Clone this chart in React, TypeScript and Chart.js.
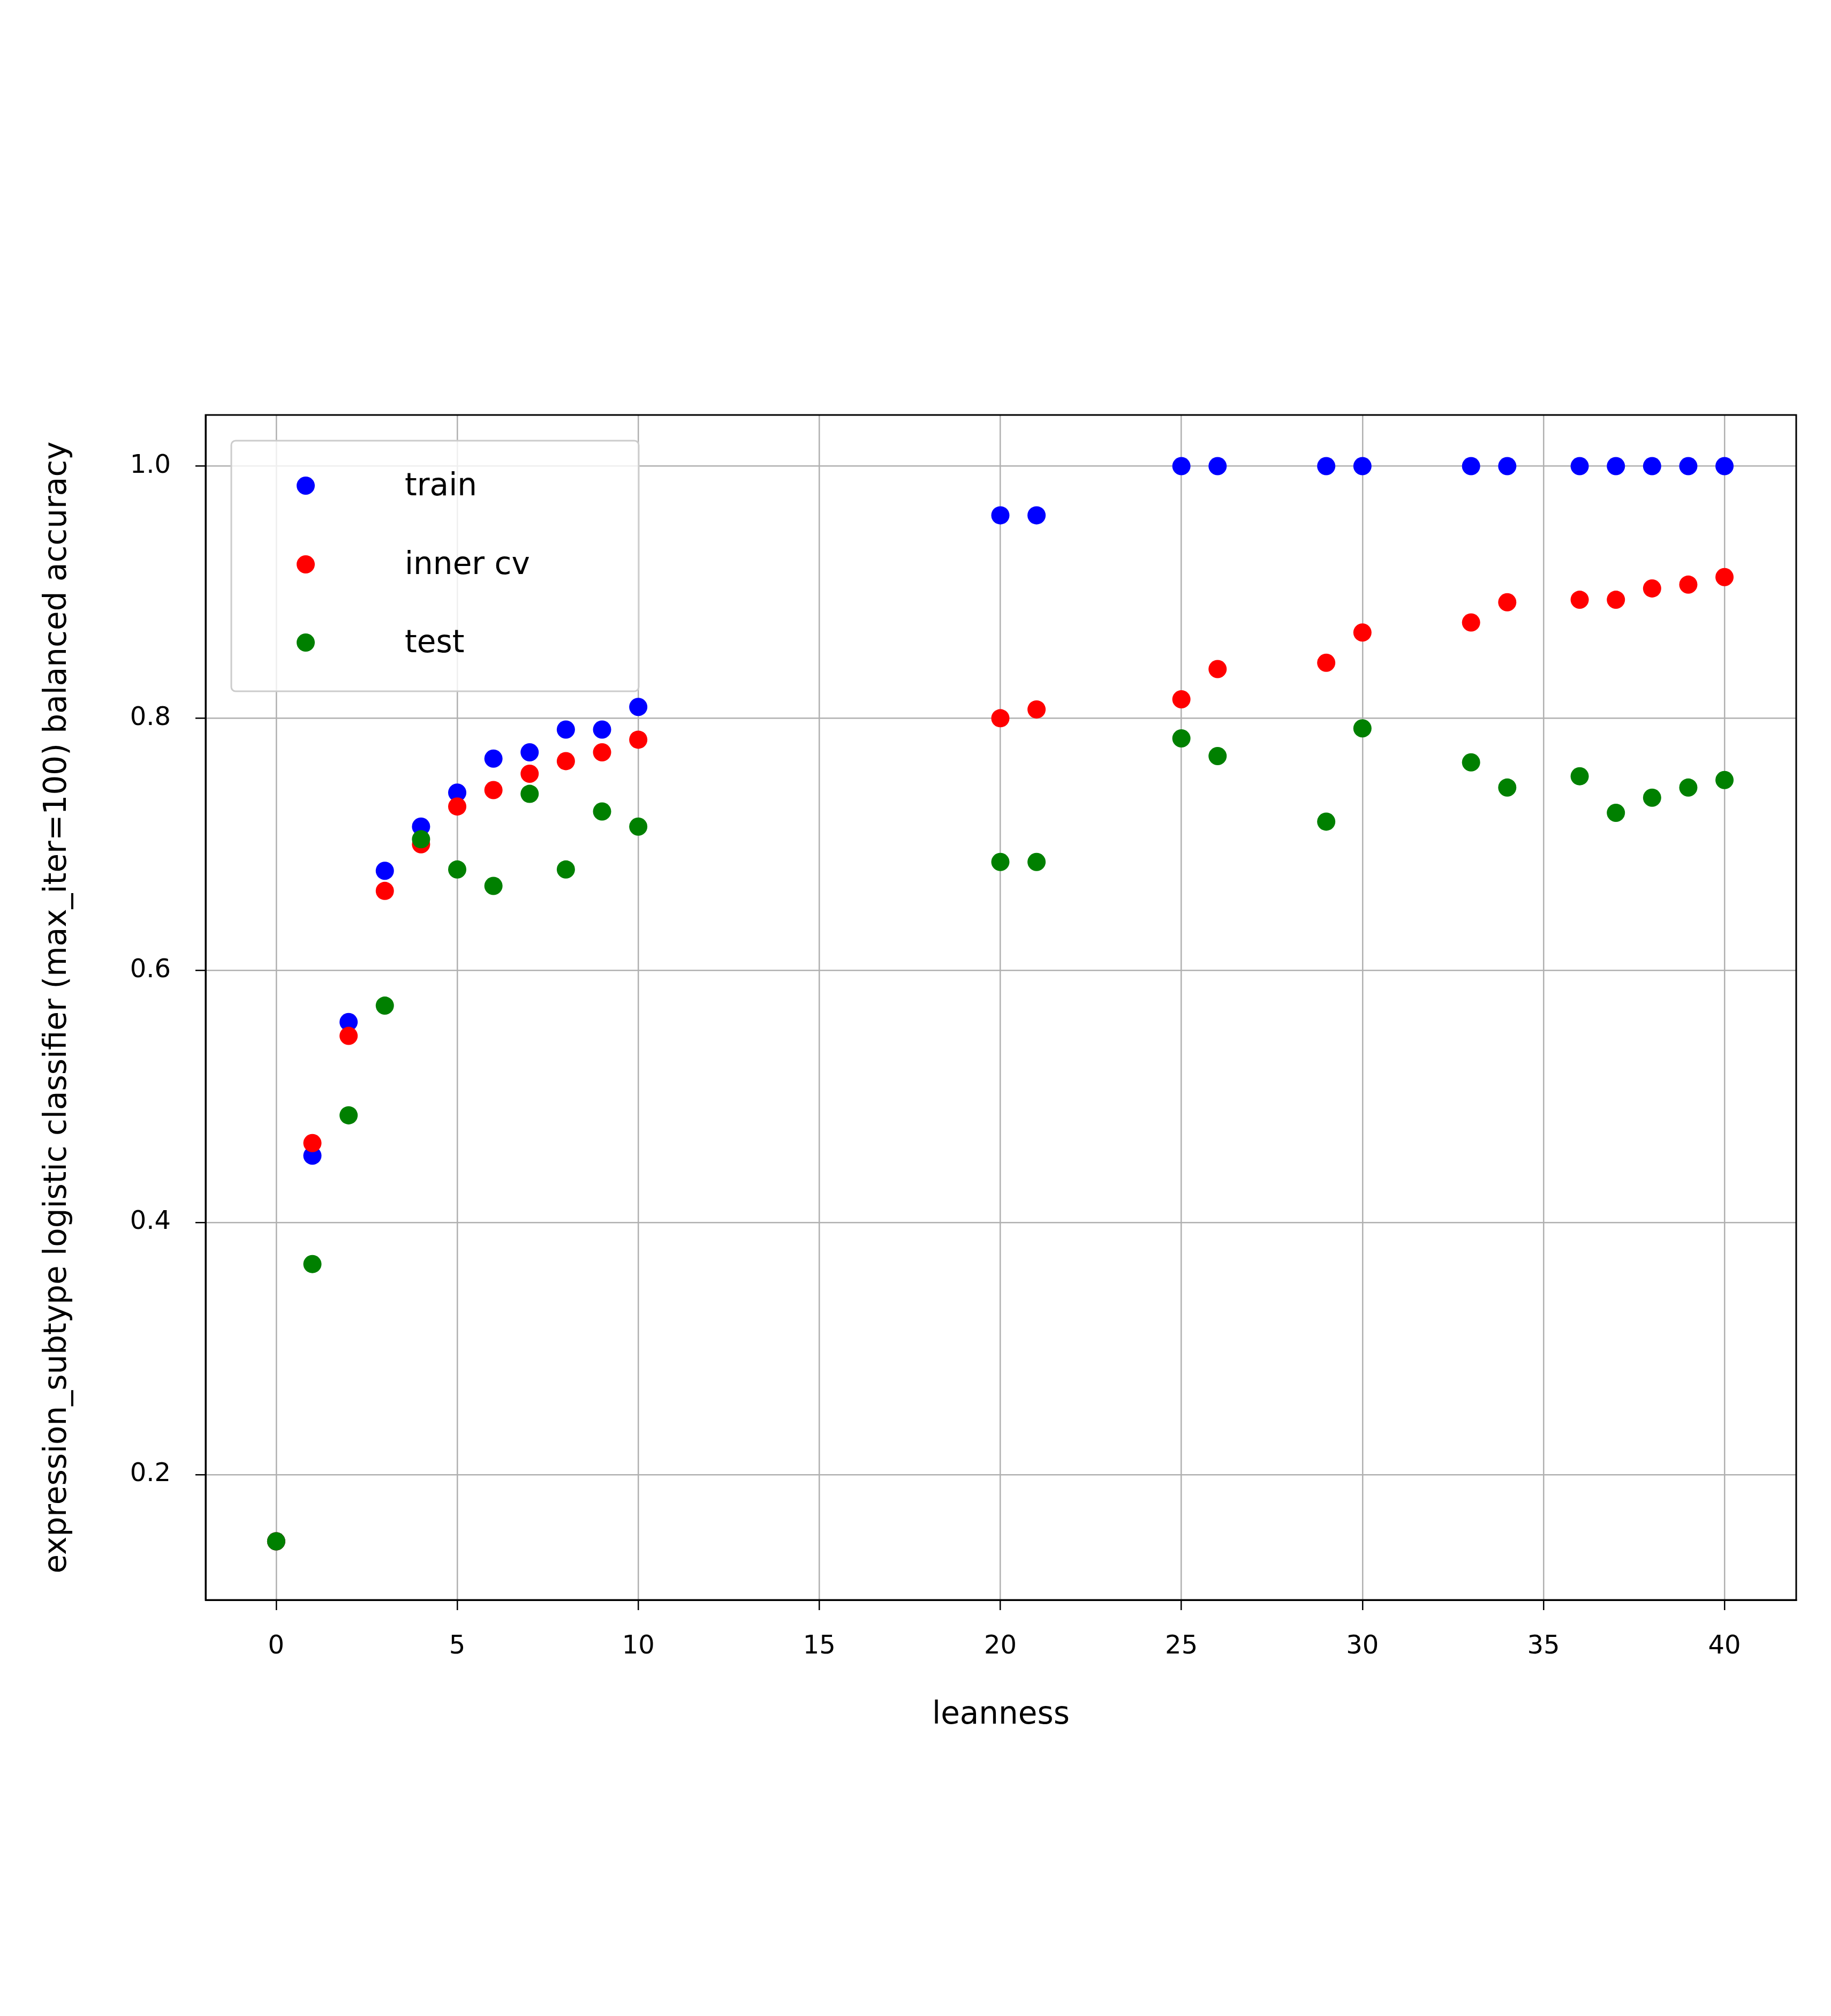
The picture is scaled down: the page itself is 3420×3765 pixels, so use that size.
import React, { useEffect, useRef } from "react";
import { Chart, registerables } from "chart.js";
Chart.register(...registerables);

const trainX = [0, 1, 2, 3, 4, 5, 6, 7, 8, 9, 10, 20, 21, 25, 26, 29, 30, 33, 34, 36, 37, 38, 39, 40];
const trainY = [0.147, 0.453, 0.559, 0.679, 0.714, 0.741, 0.768, 0.773, 0.791, 0.791, 0.809, 0.961, 0.961, 1.0, 1.0, 1.0, 1.0, 1.0, 1.0, 1.0, 1.0, 1.0, 1.0, 1.0];
const innerY = [0.147, 0.463, 0.548, 0.663, 0.700, 0.730, 0.743, 0.756, 0.766, 0.773, 0.783, 0.800, 0.807, 0.815, 0.839, 0.844, 0.868, 0.876, 0.892, 0.894, 0.894, 0.903, 0.906, 0.912];
const testY = [0.147, 0.367, 0.485, 0.572, 0.704, 0.680, 0.667, 0.740, 0.680, 0.726, 0.714, 0.686, 0.686, 0.784, 0.770, 0.718, 0.792, 0.765, 0.745, 0.754, 0.725, 0.737, 0.745, 0.751];
const seriesNames = ["train", "inner cv", "test"];
const seriesColors = ["#0000ff", "#ff0000", "#008000"];
const xTicks = [0, 5, 10, 15, 20, 25, 30, 35, 40];
const yTicks = [0.2, 0.4, 0.6, 0.8, 1.0];

const W = 3420, H = 3765;
const FONT = "'DejaVu Sans', sans-serif";
const R = 17;

const legendPlugin = {
  id: "boxLegend",
  afterDraw(chart: any) {
    const ctx = chart.ctx;
    const a = chart.chartArea;
    ctx.save();
    ctx.strokeStyle = "#000";
    ctx.lineWidth = 3;
    ctx.strokeRect(a.left, a.top, a.right - a.left, a.bottom - a.top);
    const x0 = 432, y0 = 823, w = 761, h = 468, r = 8;
    ctx.beginPath();
    ctx.roundRect(x0, y0, w, h, r);
    ctx.fillStyle = "rgba(255,255,255,0.8)";
    ctx.fill();
    ctx.strokeStyle = "#cccccc";
    ctx.lineWidth = 3;
    ctx.stroke();
    const rows = [907, 1054, 1200];
    ctx.font = `58px ${FONT}`;
    ctx.textBaseline = "middle";
    seriesNames.forEach((n, i) => {
      ctx.beginPath();
      ctx.arc(571, rows[i], R, 0, Math.PI * 2);
      ctx.fillStyle = seriesColors[i];
      ctx.fill();
      ctx.fillStyle = "#000";
      ctx.fillText(n, 756, rows[i] + 3);
    });
    ctx.restore();
  },
};

export default function App() {
  const ref = useRef<HTMLCanvasElement>(null);
  useEffect(() => {
    const mk = (ys: number[]) => trainX.map((x, i) => ({ x, y: ys[i] }));
    const datasets = [trainY, innerY, testY].map((ys, i) => ({
      label: seriesNames[i],
      data: mk(ys),
      order: 2 - i,
      backgroundColor: seriesColors[i],
      borderColor: seriesColors[i],
      pointRadius: R,
      pointBorderWidth: 0,
    }));
    const chart = new Chart(ref.current!, {
      type: "scatter",
      data: { datasets },
      plugins: [legendPlugin],
      options: {
        responsive: false,
        animation: false,
        devicePixelRatio: 1,
        layout: { padding: { top: 775, right: 65, left: 0, bottom: 0 } },
        plugins: { legend: { display: false }, tooltip: { enabled: false } },
        scales: {
          x: {
            type: "linear",
            min: -1.95,
            max: 41.98,
            afterBuildTicks: (s: any) => { s.ticks = xTicks.map((v) => ({ value: v })); },
            afterFit: (s: any) => { s.height = H - 2988; },
            ticks: { color: "#000", font: { family: FONT, size: 48 }, padding: 40, callback: (v: any) => String(v) },
            grid: { color: "#b0b0b0", lineWidth: 2.5, tickLength: 19, tickColor: "#000", tickWidth: 2.5 },
            border: { color: "#000", width: 3 },
            title: { display: true, text: "leanness", color: "#000", font: { family: FONT, size: 58 }, padding: { top: 0, bottom: 526 } },
          },
          y: {
            type: "linear",
            min: 0.1005,
            max: 1.0406,
            afterBuildTicks: (s: any) => { s.ticks = yTicks.map((v) => ({ value: v })); },
            afterFit: (s: any) => { s.width = 384; },
            ticks: { color: "#000", font: { family: FONT, size: 48 }, padding: 46, callback: (v: any) => Number(v).toFixed(1) },
            grid: { color: "#b0b0b0", lineWidth: 2.5, tickLength: 19, tickColor: "#000", tickWidth: 2.5 },
            border: { color: "#000", width: 3 },
            title: { display: true, text: "expression_subtype logistic classifier (max_iter=100) balanced accuracy", color: "#000", font: { family: FONT, size: 58 }, padding: { top: 73, bottom: 0 } },
          },
        },
      },
    });
    return () => chart.destroy();
  }, []);
  return (
    <div style={{ position: "absolute", left: 0, top: 0, width: W, height: H, background: "#fff" }}>
      <canvas ref={ref} width={W} height={H} style={{ width: W, height: H }} />
    </div>
  );
}
